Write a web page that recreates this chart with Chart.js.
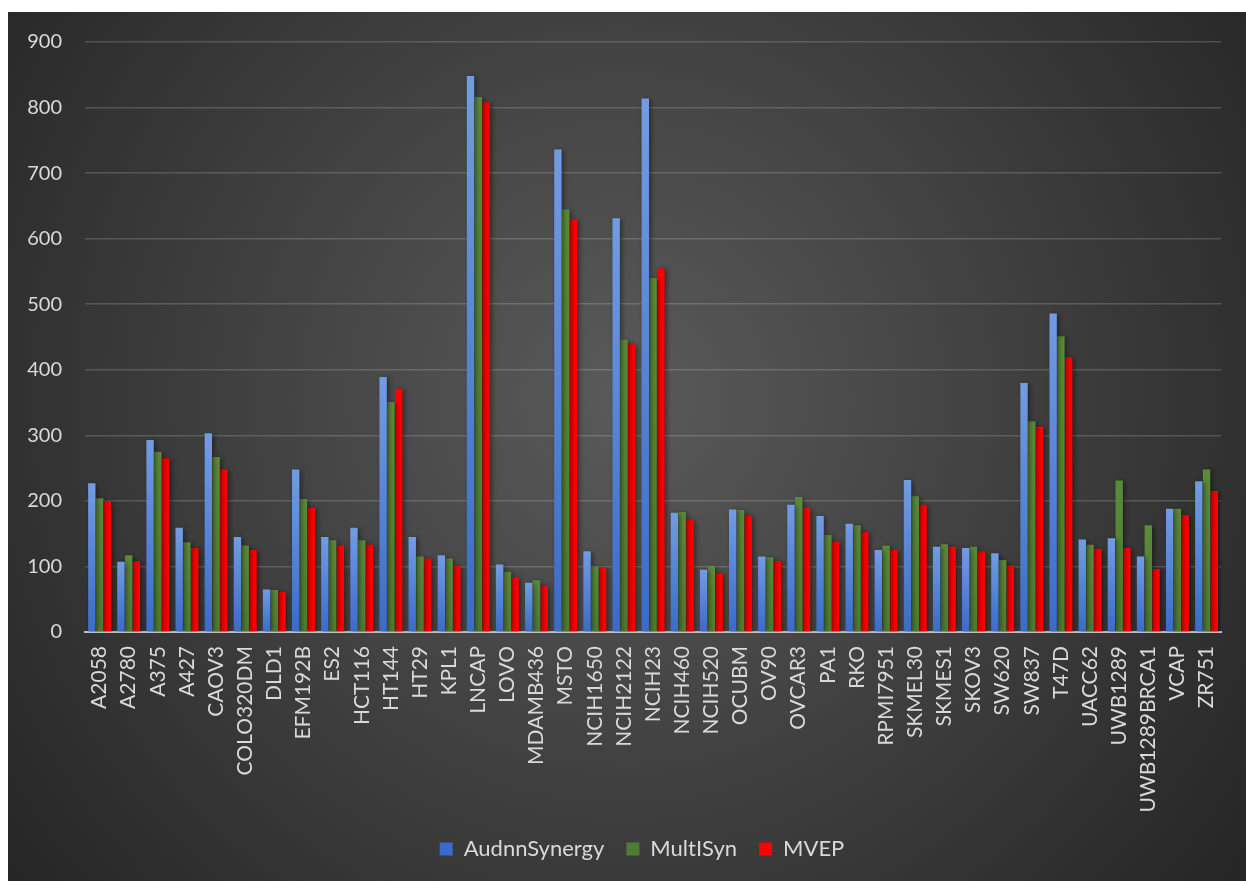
<!DOCTYPE html>
<html>
<head>
<meta charset="utf-8">
<script src="https://cdn.jsdelivr.net/npm/chart.js@4.4.1/dist/chart.umd.min.js"></script>
<style>
  html, body { margin: 0; padding: 0; background: #ffffff; }
  #wrap { width: 1246px; height: 881px; }
</style>
</head>
<body>
<div id="wrap"><canvas id="mycanvas_bars" width="1246" height="881"></canvas></div>
<script>
var cell_lines = ['A2058','A2780','A375','A427','CAOV3','COLO320DM','DLD1','EFM192B','ES2','HCT116',
    'HT144','HT29','KPL1','LNCAP','LOVO','MDAMB436','MSTO','NCIH1650','NCIH2122','NCIH23',
    'NCIH460','NCIH520','OCUBM','OV90','OVCAR3','PA1','RKO','RPMI7951','SKMEL30','SKMES1',
    'SKOV3','SW620','SW837','T47D','UACC62','UWB1289','UWB1289BRCA1','VCAP','ZR751'];

var audnn_synergy = [227, 107, 293, 159, 303, 145, 65, 248, 145, 159,
    389, 145, 117, 848, 103, 75, 736, 123, 631, 814,
    182, 95, 187, 115, 194, 177, 165, 125, 232, 130,
    128, 120, 380, 486, 141, 143, 115, 188, 230];

var multi_syn = [204, 117, 275, 137, 267, 132, 64, 203, 140, 140,
    351, 115, 112, 816, 92, 79, 645, 100, 446, 540,
    183, 101, 186, 114, 206, 148, 163, 132, 207, 134,
    130, 110, 321, 451, 133, 231, 163, 188, 248];

var mvep = [200, 108, 265, 128, 248, 125, 61, 189, 132, 133,
    371, 112, 101, 808, 84, 70, 630, 99, 439, 555,
    171, 89, 178, 108, 189, 138, 152, 125, 194, 130,
    123, 102, 313, 419, 127, 128, 96, 178, 215];

var y_ticks = [0, 100, 200, 300, 400, 500, 600, 700, 800, 900];

var txt_color = '#d9d9d9';
var font_name = 'Lato, "Open Sans", sans-serif';

// vertical gradient per bar, lighter on top
function bar_fill(light, dark){
    return function(context){
        var chart = context.chart;
        if (!chart.chartArea || context.type !== 'data') return dark;
        var y_scale = chart.scales.y;
        var top = y_scale.getPixelForValue(context.raw);
        var bottom = y_scale.getPixelForValue(0);
        if (!isFinite(top) || bottom - top < 1) return dark;
        var grad = chart.ctx.createLinearGradient(0, top, 0, bottom);
        grad.addColorStop(0, light);
        grad.addColorStop(1, dark);
        return grad;
    };
}

var background_plugin = {
    id: 'background_plugin',
    beforeDraw: function(chart){
        var ctx = chart.ctx;
        var w = chart.width, h = chart.height;
        ctx.save();
        ctx.fillStyle = '#ffffff';
        ctx.fillRect(0, 0, w, h);
        var cx = w * 0.5, cy = h * 0.45;
        var grad = ctx.createRadialGradient(cx, cy, 0, cx, cy, w * 0.62);
        grad.addColorStop(0, '#5a5a5a');
        grad.addColorStop(1, '#262626');
        ctx.fillStyle = grad;
        ctx.fillRect(8, 12, w - 8, h - 12);
        ctx.restore();
    }
};

// legend sits a bit right of the canvas centre, like the original
var legend_shift = {
    id: 'legend_shift',
    afterLayout: function(chart){
        if (chart.legend) chart.legend.left += 50;
    }
};

var shadow_plugin = {
    id: 'shadow_plugin',
    beforeDatasetsDraw: function(chart){
        var ctx = chart.ctx;
        ctx.save();
        ctx.shadowColor = 'rgba(0,0,0,0.45)';
        ctx.shadowBlur = 5;
        ctx.shadowOffsetX = 2;
        ctx.shadowOffsetY = 1;
    },
    afterDatasetsDraw: function(chart){
        chart.ctx.restore();
    }
};

var ctx_bars = document.getElementById('mycanvas_bars').getContext('2d');
var myChart_bars = new Chart(ctx_bars, {
    type: 'bar',
    data: {
        labels: cell_lines,
        datasets: [{
            label: 'AudnnSynergy',
            data: audnn_synergy,
            backgroundColor: bar_fill('#729ce2', '#3a6bc8'),
            borderWidth: 0
        },{
            label: 'MultISyn',
            data: multi_syn,
            backgroundColor: bar_fill('#5a8a3a', '#4f7c31'),
            borderWidth: 0
        },{
            label: 'MVEP',
            data: mvep,
            backgroundColor: '#ff0000',
            borderWidth: 0
        }]
    },
    options: {
        responsive: false,
        animation: false,
        layout: {
            padding: { top: 42, right: 18, bottom: 11, left: 6 }
        },
        datasets: {
            bar: {
                barPercentage: 0.95,
                categoryPercentage: 0.8
            }
        },
        scales: {
            x: {
                grid: { display: false, drawTicks: false },
                border: { display: true, color: '#bfbfbf', width: 2 },
                ticks: {
                    color: txt_color,
                    font: { family: font_name, size: 21 },
                    maxRotation: 90,
                    minRotation: 90,
                    autoSkip: false,
                    padding: 14
                },
                afterFit: function(axis){
                    axis.height = 184;
                }
            },
            y: {
                min: 0,
                max: 900,
                afterBuildTicks: function(axis){
                    axis.ticks = y_ticks.map(function(v){ return { value: v }; });
                },
                afterFit: function(axis){
                    axis.width = 79;
                },
                grid: { color: 'rgba(255,255,255,0.17)', lineWidth: 1.5, drawTicks: false },
                border: { display: false },
                ticks: {
                    color: txt_color,
                    font: { family: font_name, size: 20 },
                    padding: 23
                }
            }
        },
        plugins: {
            legend: {
                position: 'bottom',
                labels: {
                    color: txt_color,
                    font: { family: font_name, size: 22 },
                    boxWidth: 13,
                    boxHeight: 13,
                    padding: 22
                }
            },
            tooltip: { enabled: false }
        }
    },
    plugins: [background_plugin, legend_shift, shadow_plugin]
});
</script>
</body>
</html>
